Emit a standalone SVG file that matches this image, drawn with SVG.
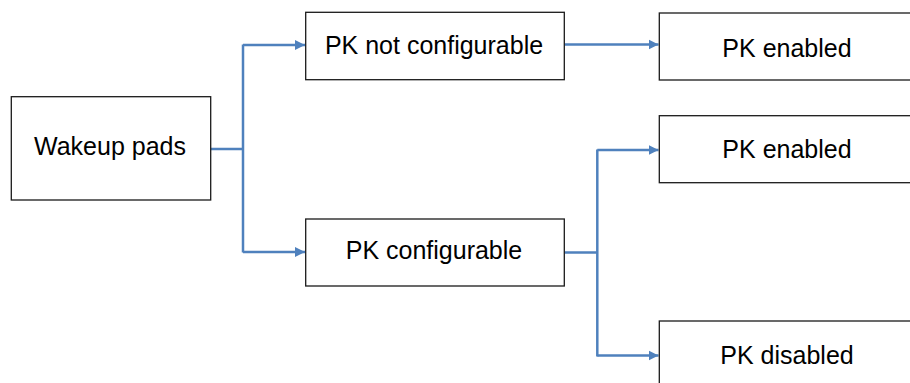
<svg xmlns="http://www.w3.org/2000/svg" width="910" height="383" viewBox="0 0 910 383">
  <defs>
    <style>
      .box { fill: #ffffff; stroke: #1a1a1a; stroke-width: 1.3; }
      .lbl { font-family: "Liberation Sans", Arial, sans-serif; font-size: 25px; fill: #000000; text-anchor: middle; }
      .wire { fill: none; stroke: #4f81bd; stroke-width: 2.5; }
    </style>
    <marker id="arrow" markerUnits="userSpaceOnUse" markerWidth="10" markerHeight="12" refX="10" refY="6" orient="auto">
      <path d="M0,1 L10,6 L0,11 Z" fill="#4f81bd"/>
    </marker>
  </defs>

  <rect width="910" height="383" fill="#ffffff"/>

  <!-- connectors -->
  <g id="connectors">
    <path class="wire" d="M210.7,149 H243"/>
    <path class="wire" d="M243,44.5 V252.5"/>
    <path class="wire" d="M243,45 H305" marker-end="url(#arrow)"/>
    <path class="wire" d="M243,252 H305" marker-end="url(#arrow)"/>
    <path class="wire" d="M564.3,44.5 H658.5" marker-end="url(#arrow)"/>
    <path class="wire" d="M564.3,252.5 H597.3"/>
    <path class="wire" d="M597.3,149.5 V356.5"/>
    <path class="wire" d="M597.3,150 H658.5" marker-end="url(#arrow)"/>
    <path class="wire" d="M597.3,355.5 H658.5" marker-end="url(#arrow)"/>
  </g>

  <g id="wakeup-pads">
    <rect class="box" x="11.3" y="96.7" width="199.4" height="103.3"/>
    <text class="lbl" x="110" y="155">Wakeup pads</text>
  </g>

  <g id="pk-not-configurable">
    <rect class="box" x="305.7" y="12.3" width="258.6" height="67.4"/>
    <text class="lbl" x="434" y="53.5">PK not configurable</text>
  </g>

  <g id="pk-configurable">
    <rect class="box" x="305.7" y="219" width="258.6" height="67"/>
    <text class="lbl" x="434" y="259">PK configurable</text>
  </g>

  <g id="pk-enabled-1">
    <rect class="box" x="659.3" y="13" width="256" height="67"/>
    <text class="lbl" x="787" y="56.5">PK enabled</text>
  </g>

  <g id="pk-enabled-2">
    <rect class="box" x="659.3" y="115.7" width="256" height="67"/>
    <text class="lbl" x="787" y="157.7">PK enabled</text>
  </g>

  <g id="pk-disabled">
    <rect class="box" x="659.3" y="321" width="256" height="67"/>
    <text class="lbl" x="787" y="364">PK disabled</text>
  </g>
</svg>
